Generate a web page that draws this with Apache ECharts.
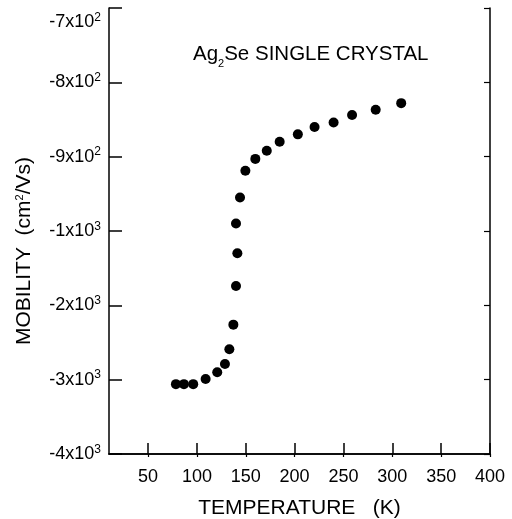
<!DOCTYPE html>
<html>
<head>
<meta charset="utf-8">
<script src="https://cdn.jsdelivr.net/npm/echarts@6/dist/echarts.min.js"></script>
<style>
html, body { margin: 0; padding: 0; background: #fff; }
#chart { width: 512px; height: 519px; }
</style>
</head>
<body>
<div id="chart"></div>
<script>
// temperature (K)
var temperature = [78.5, 86.7, 96.2, 108.9, 120.8, 128.7, 133.2, 137.3, 140.0, 141.4, 140.0, 144.1,
    149.6, 159.8, 171.5, 184.7, 203.3, 220.4, 239.9, 258.8, 283.0, 309.1];
// mobility, as position on the axis (tick steps counted up from -4x10^3)
var mobility = [0.94, 0.94, 0.94, 1.01, 1.10, 1.21, 1.41, 1.74, 2.26, 2.70, 3.10, 3.45,
    3.81, 3.97, 4.08, 4.20, 4.30, 4.40, 4.46, 4.56, 4.63, 4.72];
// y tick labels, bottom to top
var yTickLabels = ['-4x10^3', '-3x10^3', '-2x10^3', '-1x10^3', '-9x10^2', '-8x10^2', '-7x10^2'];
var xTicks = [50, 100, 150, 200, 250, 300, 350, 400];

var chartDom = document.getElementById('chart');
var myChart = echarts.init(chartDom);

var points = temperature.map(function (t, i) { return [t, mobility[i]]; });
var black = '#000';
var font = 'Arial, "Liberation Sans", sans-serif';

var option = {
    animation: false,
    backgroundColor: '#fff',
    title: {
        text: '{a|Ag}{b|2}{a|Se SINGLE CRYSTAL}',
        left: 193,
        top: 44,
        padding: 0,
        textStyle: {
            rich: {
                a: { fontSize: 20.5, lineHeight: 20, fontFamily: font, fontWeight: 'normal', color: black, verticalAlign: 'top' },
                b: { fontSize: 11, lineHeight: 11, fontFamily: font, fontWeight: 'normal', color: black, verticalAlign: 'top', padding: [14, 0, 0, 0] }
            }
        }
    },
    grid: { left: 109, right: 22, top: 8, bottom: 65, outerBoundsMode: 'none', containLabel: false },
    xAxis: [{
        type: 'value',
        min: 10,
        max: 400,
        name: 'TEMPERATURE   (K)',
        nameLocation: 'middle',
        nameGap: 44,
        nameTextStyle: { fontSize: 21, fontFamily: font, color: black },
        axisLine: { lineStyle: { color: black, width: 1.5 } },
        axisTick: { inside: true, length: 11, customValues: xTicks, lineStyle: { color: black, width: 1.5 } },
        axisLabel: { customValues: xTicks, margin: 14, fontSize: 18, fontFamily: font, color: black },
        splitLine: { show: false }
    }, {
        type: 'value',
        position: 'top',
        min: 10,
        max: 400,
        axisLine: { show: true, lineStyle: { color: black, width: 1.5 } },
        axisTick: { show: true, inside: true, length: 3, customValues: xTicks, lineStyle: { color: black, width: 1.2 } },
        axisLabel: { show: false },
        splitLine: { show: false }
    }],
    yAxis: [{
        type: 'value',
        min: 0,
        max: 6,
        interval: 1,
        name: '{m|MOBILITY  (cm}{s|2}{m|/Vs)}',
        nameLocation: 'middle',
        nameRotate: 90,
        nameGap: 74,
        nameTextStyle: {
            padding: [0, 40, 0, 0],
            rich: {
                m: { fontSize: 21, lineHeight: 21, fontFamily: font, color: black },
                s: { fontSize: 11, lineHeight: 11, fontFamily: font, color: black, verticalAlign: 'middle', padding: [0, 0, 10, 0] }
            }
        },
        axisLine: { lineStyle: { color: black, width: 1.5 } },
        axisTick: { inside: true, length: 13, lineStyle: { color: black, width: 1.5 } },
        axisLabel: {
            margin: 8,
            lineHeight: 28,
            formatter: function (v) {
                var i = Math.round(v);
                var p = yTickLabels[i].split('^');
                var s = '{m|' + p[0] + '}{s|' + p[1] + '}';
                return i === yTickLabels.length - 1 ? '\n' + s : s;
            },
            rich: {
                m: { fontSize: 18, lineHeight: 18, fontFamily: font, color: black },
                s: { fontSize: 12, lineHeight: 12, fontFamily: font, color: black, verticalAlign: 'middle', padding: [0, 0, 9, 0] }
            }
        },
        splitLine: { show: false }
    }, {
        type: 'value',
        position: 'right',
        min: 0,
        max: 6,
        interval: 1,
        axisLine: { show: true, lineStyle: { color: black, width: 1.5 } },
        axisTick: { show: true, inside: true, length: 6, lineStyle: { color: black, width: 1.2 } },
        axisLabel: { show: false },
        splitLine: { show: false }
    }],
    series: [{
        type: 'scatter',
        data: points,
        symbol: 'circle',
        symbolSize: 10,
        itemStyle: { color: black, opacity: 1 },
        emphasis: { disabled: true }
    }]
};

myChart.setOption(option);
</script>
</body>
</html>
